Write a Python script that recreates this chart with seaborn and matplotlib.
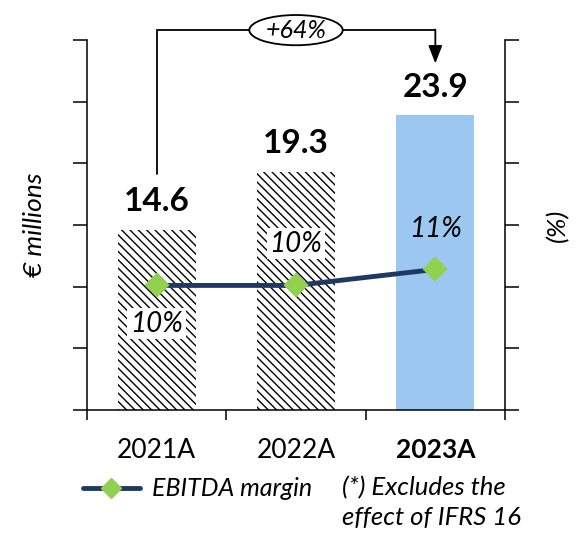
import matplotlib
matplotlib.use("Agg")
import matplotlib.pyplot as plt
import seaborn as sns
import pandas as pd
from matplotlib.patches import Ellipse
from matplotlib.lines import Line2D

years = ["2021A", "2022A", "2023A"]
ebitda = [14.6, 19.3, 23.9]
margin = [10.1, 10.1, 11.4]
margin_labels = ["10%", "10%", "11%"]
growth_label = "+64%"

sns.set_theme(style="white")
plt.rcParams["font.family"] = ["Lato", "DejaVu Sans"]
plt.rcParams["text.color"] = "black"
plt.rcParams["axes.labelcolor"] = "black"
plt.rcParams["xtick.color"] = "black"
plt.rcParams["ytick.color"] = "black"
plt.rcParams["hatch.linewidth"] = 1.0

navy = "#1F3864"
green = "#92D050"
blue = "#9BC7F0"

fig = plt.figure(figsize=(5.77, 5.39), dpi=100)
ax = fig.add_axes([87/577, 1-410/539, (505-87)/577, 370/539])

df = pd.DataFrame({"year": years, "ebitda": ebitda, "margin": margin})
sns.barplot(data=df, x="year", y="ebitda", ax=ax, width=0.56,
            color="white", saturation=1, edgecolor="black", linewidth=0)
for i, p in enumerate(ax.patches):
    if i < 2:
        p.set_facecolor("white")
        p.set_hatch("\\\\\\\\")
        p.set_edgecolor("black")
        p.set_linewidth(0)
    else:
        p.set_facecolor(blue)
        p.set_hatch(None)

ax.set_xlim(-0.5, 2.5)
ax.set_ylim(0, 30)
ax.set_yticks([0, 5, 10, 15, 20, 25, 30])
ax.set_yticklabels([])
ax.set_xticks([-0.5, 0.5, 1.5, 2.5])
ax.set_xticklabels([])
ax.set_xticks([0, 1, 2], minor=True)
ax.set_xticklabels(years, minor=True)
ax.tick_params(axis="x", which="minor", length=0, pad=20, labelsize=19)
ax.tick_params(axis="x", which="major", direction="out", length=7, width=1.1, color="black", bottom=True)
ax.tick_params(axis="y", direction="out", length=10, width=1.1, color="black", left=True)
for lbl in ax.get_xticklabels(minor=True):
    lbl.set_color("black")
    if lbl.get_text() == "2023A":
        lbl.set_fontweight("bold")
ax.set_xlabel("")
ax.set_ylabel("€ millions", fontsize=19, style="italic", labelpad=16, color="black")
for s in ["left", "bottom"]:
    ax.spines[s].set_color("black")
    ax.spines[s].set_linewidth(1.1)
ax.spines["top"].set_visible(False)
ax.spines["right"].set_visible(False)

for i, v in enumerate(ebitda):
    ax.text(i, v + 1.1, f"{v:.1f}", ha="center", va="bottom", fontsize=24,
            fontweight="bold", color="black")

ax2 = ax.twinx()
sns.pointplot(data=df, x="year", y="margin", ax=ax2, color=navy, markers="D",
              linestyles="-", linewidth=3.5, markersize=10)
for ln in ax2.lines:
    ln.set_markerfacecolor(green)
    ln.set_markeredgecolor(green)
ax2.set_xlim(-0.5, 2.5)
ax2.set_ylim(0, 30)
ax2.set_yticks([0, 5, 10, 15, 20, 25, 30])
ax2.set_yticklabels([])
ax2.tick_params(axis="y", direction="out", length=10, width=1.1, color="black", right=True)
ax2.set_ylabel("(%)", fontsize=19, style="italic", labelpad=16, color="black")
ax2.set_xlabel("")
for s in ["left", "top", "bottom"]:
    ax2.spines[s].set_visible(False)
ax2.spines["right"].set_color("black")
ax2.spines["right"].set_linewidth(1.1)

offsets = [-3.1, 3.4, 3.3]
for i, (m, lab) in enumerate(zip(margin, margin_labels)):
    bb = dict(facecolor="white", edgecolor="none", pad=2) if i < 2 else None
    ax2.text(i, m + offsets[i], lab, ha="center", va="center", fontsize=20,
             style="italic", color="black", bbox=bb)

# growth bracket
ytop = 30.8
ax.plot([0, 0, 2], [ebitda[0] + 4.5, ytop, ytop], color="black", lw=1.3,
        clip_on=False, solid_joinstyle="miter")
ax.annotate("", xy=(2, ebitda[2] + 4.2), xytext=(2, ytop + 0.05),
            arrowprops=dict(arrowstyle="-|>,head_width=0.35,head_length=0.9",
                            color="black", lw=1.3, shrinkA=0, shrinkB=0),
            annotation_clip=False)
ell = Ellipse((1.0, ytop), 0.67, 2.45, facecolor="white", edgecolor="black",
              lw=1.3, clip_on=False, zorder=5)
ax.add_patch(ell)
ax.text(1.0, ytop, growth_label, ha="center", va="center", fontsize=18,
        style="italic", zorder=6, clip_on=False)

handle = Line2D([], [], color=navy, lw=3.5, marker="D", markersize=10,
                markerfacecolor=green, markeredgecolor=green)
fig.legend([handle], ["EBITDA margin"], loc="center left",
           bbox_to_anchor=(60/577, 1-489/539), frameon=False,
           prop=dict(size=18, style="italic"), handlelength=2.3, handletextpad=0.5)
fig.text(342/577, 1-476/539, "(*) Excludes the\neffect of IFRS 16", ha="left",
         va="top", fontsize=18.5, style="italic", linespacing=1.35)

fig.savefig("out.png", dpi=100)
